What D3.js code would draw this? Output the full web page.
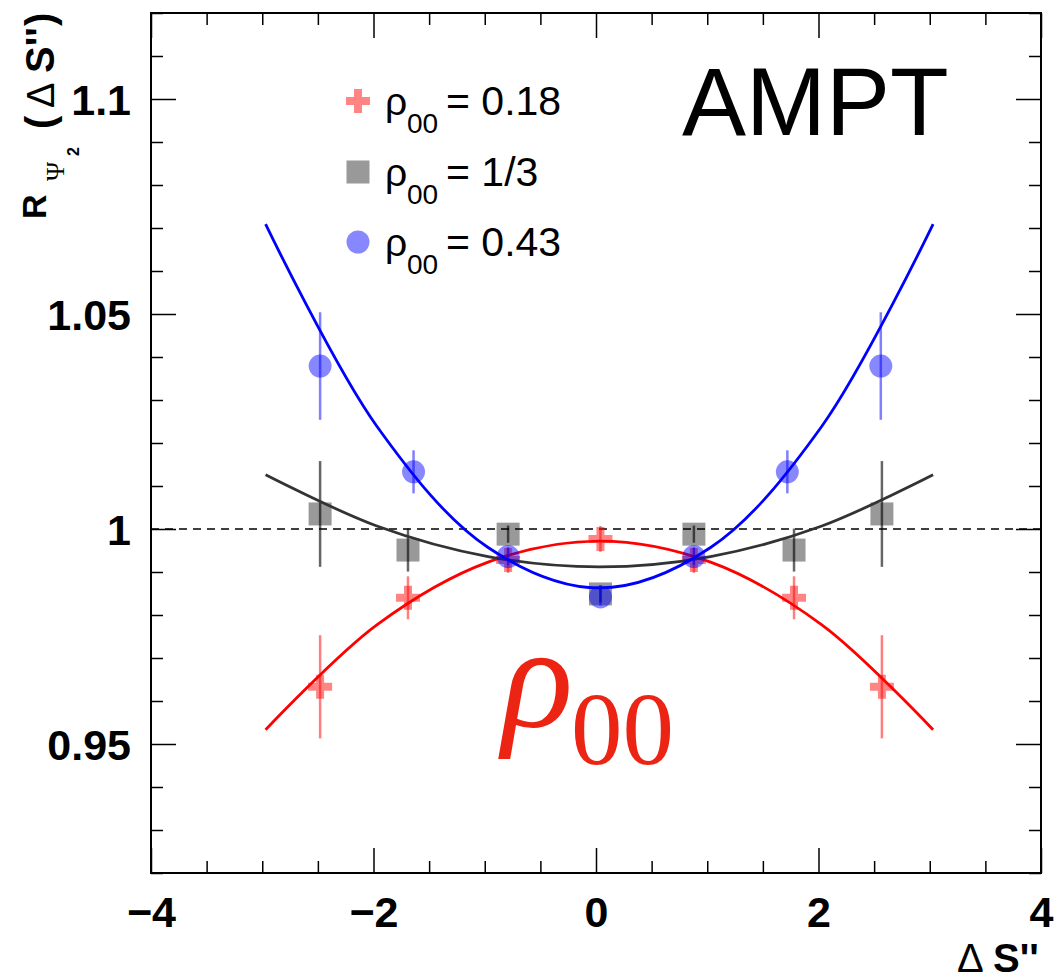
<!DOCTYPE html>
<html>
<head>
<meta charset="utf-8">
<script src="https://cdn.jsdelivr.net/npm/d3@7"></script>
<style>
  html, body { margin: 0; padding: 0; background: #fff; }
  svg { display: block; }
  text { font-family: "Liberation Sans", Arial, Helvetica, sans-serif; }
</style>
</head>
<body>
<svg id="chart" width="1058" height="980"></svg>
<script>
// ---- data ----------------------------------------------------------------
const xMajorTicks = [-4, -2, 0, 2, 4];
const yMajorTicks = [0.95, 1.0, 1.05, 1.1];
const yTickLabels = ["0.95", "1", "1.05", "1.1"];
const xTickLabels = ["\u22124", "\u22122", "0", "2", "4"];

// measured points, one array per rho00 setting
const xRed   = [-2.48, -1.69, -0.79, 0.04, 0.88, 1.78, 2.57];
const yRed   = [0.9633, 0.9840, 0.9928, 0.9977, 0.9928, 0.9840, 0.9633];
const eRed   = [0.0120, 0.0050, 0.0030, 0.0030, 0.0030, 0.0050, 0.0120];

const xGray  = [-2.48, -1.69, -0.79, 0.04, 0.88, 1.78, 2.57];
const yGray  = [1.0035, 0.9951, 0.9988, 0.9849, 0.9988, 0.9951, 1.0035];
const eGray  = [0.0123, 0.0050, 0.0020, 0.0020, 0.0020, 0.0050, 0.0123];

const xBlue  = [-2.48, -1.64, -0.79, 0.04, 0.88, 1.72, 2.56];
const yBlue  = [1.0379, 1.0133, 0.9936, 0.9842, 0.9936, 1.0133, 1.0379];
const eBlue  = [0.0125, 0.0050, 0.0020, 0.0020, 0.0020, 0.0050, 0.0125];

// fitted curves, sampled along the fit range
const xFit     = [-2.97, -1.97, -0.97, 0.03, 1.03, 2.03, 3.03];
const yFitRed  = [0.9533, 0.9777, 0.9923, 0.9972, 0.9923, 0.9777, 0.9533];
const yFitGray = [1.0126, 1.0007, 0.9936, 0.9912, 0.9936, 1.0007, 1.0126];
const yFitBlue = [1.0709, 1.0239, 0.9957, 0.9863, 0.9957, 1.0239, 1.0709];

const legendLabels = ["0.18", "1/3", "0.43"];

// ---- layout --------------------------------------------------------------
const svg = d3.select("#chart");
const L = 151, R = 1041, T = 13, B = 873;

const x = d3.scaleLinear().domain([-4, 4]).range([L, R]);
const y = d3.scaleLinear().domain([0.92, 1.12]).range([B, T]);

const xMinor = d3.range(-4, 4.001, 0.5).filter(v => Math.abs(v / 2 - Math.round(v / 2)) > 1e-6);
const yMinor = d3.range(0.92, 1.1201, 0.01).map(v => +v.toFixed(2))
  .filter(v => !yMajorTicks.some(m => Math.abs(m - v) < 1e-6));

function styleAxis(g) {
  g.select(".domain").remove();
  g.selectAll(".tick line").attr("stroke", "#000").attr("stroke-width", 1.5);
}

// major + minor ticks on all four sides, pointing inward
const MAJ = 25, MIN = 12;
svg.append("g").attr("transform", `translate(${L},0)`)
  .call(d3.axisLeft(y).tickValues(yMajorTicks).tickSize(-MAJ).tickPadding(20)
    .tickFormat((d, i) => yTickLabels[i]))
  .call(styleAxis)
  .call(g => g.selectAll("text").attr("font-size", 43).attr("font-weight", "bold")
    .attr("fill", "#000").attr("dy", "0.36em"));
svg.append("g").attr("transform", `translate(${L},0)`)
  .call(d3.axisLeft(y).tickValues(yMinor).tickSize(-MIN).tickFormat(""))
  .call(styleAxis);
svg.append("g").attr("transform", `translate(${R},0)`)
  .call(d3.axisRight(y).tickValues(yMajorTicks).tickSize(-MAJ).tickFormat(""))
  .call(styleAxis);
svg.append("g").attr("transform", `translate(${R},0)`)
  .call(d3.axisRight(y).tickValues(yMinor).tickSize(-MIN).tickFormat(""))
  .call(styleAxis);

svg.append("g").attr("transform", `translate(0,${B})`)
  .call(d3.axisBottom(x).tickValues(xMajorTicks).tickSize(-MAJ).tickPadding(23)
    .tickFormat((d, i) => xTickLabels[i]))
  .call(styleAxis)
  .call(g => g.selectAll("text").attr("font-size", 43).attr("font-weight", "bold").attr("fill", "#000"));
svg.append("g").attr("transform", `translate(0,${B})`)
  .call(d3.axisBottom(x).tickValues(xMinor).tickSize(-MIN).tickFormat(""))
  .call(styleAxis);
svg.append("g").attr("transform", `translate(0,${T})`)
  .call(d3.axisTop(x).tickValues(xMajorTicks).tickSize(-MAJ).tickFormat(""))
  .call(styleAxis);
svg.append("g").attr("transform", `translate(0,${T})`)
  .call(d3.axisTop(x).tickValues(xMinor).tickSize(-MIN).tickFormat(""))
  .call(styleAxis);

// frame
svg.append("rect").attr("x", L).attr("y", T).attr("width", R - L).attr("height", B - T)
  .attr("fill", "none").attr("stroke", "#000").attr("stroke-width", 2);

// reference line at unity
svg.append("line")
  .attr("x1", x(-4)).attr("x2", x(4)).attr("y1", y(1)).attr("y2", y(1))
  .attr("stroke", "#000").attr("stroke-width", 1.4).attr("stroke-dasharray", "8,6");

// ---- series ---------------------------------------------------------------
const series = [
  { xs: xRed,  ys: yRed,  es: eRed,  fit: yFitRed,  sym: d3.symbolCross,  size: 320,
    fill: "rgba(255,0,0,0.48)", bar: "rgba(255,0,0,0.5)", line: "#ff0000" },
  { xs: xGray, ys: yGray, es: eGray, fit: yFitGray, sym: d3.symbolSquare, size: 529,
    fill: "rgba(0,0,0,0.4)",    bar: "rgba(0,0,0,0.6)",   line: "#333333" },
  { xs: xBlue, ys: yBlue, es: eBlue, fit: yFitBlue, sym: d3.symbolCircle, size: 415,
    fill: "rgba(0,0,255,0.47)", bar: "rgba(0,0,255,0.5)", line: "#0000ff" }
];

const fitLine = d3.line().x(d => x(d[0])).y(d => y(d[1])).curve(d3.curveCatmullRom.alpha(0.5));

series.forEach(s => {
  const pts = s.xs.map((v, i) => ({ x: v, y: s.ys[i], e: s.es[i] }));
  const g = svg.append("g");
  g.selectAll("line.err").data(pts).join("line").attr("class", "err")
    .attr("x1", d => x(d.x)).attr("x2", d => x(d.x))
    .attr("y1", d => y(d.y - d.e)).attr("y2", d => y(d.y + d.e))
    .attr("stroke", s.bar).attr("stroke-width", 2.5);
  g.selectAll("path.mk").data(pts).join("path").attr("class", "mk")
    .attr("transform", d => `translate(${x(d.x)},${y(d.y)})`)
    .attr("d", d3.symbol(s.sym, s.size)())
    .attr("fill", s.fill);
  g.append("path")
    .datum(xFit.map((v, i) => [v, s.fit[i]]))
    .attr("d", fitLine).attr("fill", "none")
    .attr("stroke", s.line).attr("stroke-width", 2.8);
});

// ---- legend ---------------------------------------------------------------
const legY = [101, 172, 242];
series.forEach((s, i) => {
  const cy = legY[i];
  svg.append("path").attr("transform", `translate(358,${cy})`)
    .attr("d", d3.symbol(s.sym, s.size)()).attr("fill", s.fill);
  const t = svg.append("text").attr("y", cy + 14).attr("fill", "#000");
  t.append("tspan").attr("x", 385).attr("font-size", 39).text("\u03c1");
  t.append("tspan").attr("x", 407).attr("dy", 18).attr("font-size", 28).text("00");
  t.append("tspan").attr("x", 446).attr("dy", -18).attr("font-size", 41).text("= " + legendLabels[i]);
});

// ---- annotations ----------------------------------------------------------
svg.append("text").attr("x", 682).attr("y", 135).attr("font-size", 96).attr("fill", "#000").text("AMPT");

const rho = svg.append("text").attr("fill", "#ec2414")
  .style("font-family", "'Liberation Serif', 'Times New Roman', serif");
rho.append("tspan").attr("x", 502).attr("y", 727).attr("font-size", 148).attr("font-style", "italic").text("\u03c1");
rho.append("tspan").attr("x", 571).attr("y", 764).attr("font-size", 103).text("00");

// x-axis title
const xt = svg.append("text").attr("y", 972).attr("font-size", 40).attr("fill", "#000");
xt.append("tspan").attr("x", 957).text("\u0394");
xt.append("tspan").attr("x", 993).attr("font-weight", "bold").text("S''");

// y-axis title, reading upward
const yt = svg.append("g").attr("transform", "translate(46,219) rotate(-90)");
yt.append("text").attr("x", 0).attr("y", 0).attr("font-size", 34).attr("font-weight", "bold").text("R");
yt.append("text").attr("x", 38).attr("y", 18).attr("font-size", 26)
  .style("font-family", "'Liberation Serif', serif").text("\u03a8");
yt.append("text").attr("x", 63).attr("y", 33).attr("font-size", 16).attr("font-weight", "bold").text("2");
yt.append("text").attr("x", 90).attr("y", 8).attr("font-size", 40).attr("font-weight", "bold").text("(");
yt.append("text").attr("x", 111).attr("y", 8).attr("font-size", 38).text("\u0394");
yt.append("text").attr("x", 146).attr("y", 8).attr("font-size", 40).attr("font-weight", "bold").text("S''");
yt.append("text").attr("x", 193).attr("y", 8).attr("font-size", 40).attr("font-weight", "bold").text(")");
</script>
</body>
</html>
